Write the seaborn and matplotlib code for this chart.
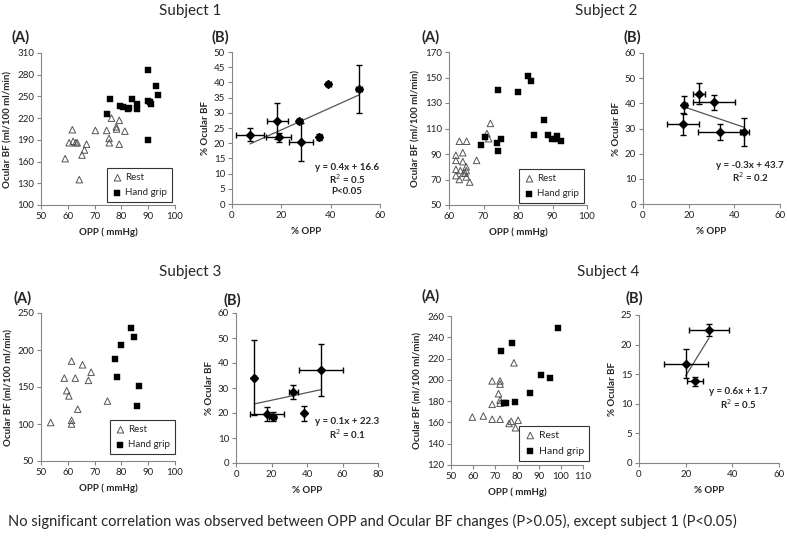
import numpy as np
import pandas as pd
import seaborn as sns
import matplotlib.pyplot as plt

# ---------------- data ----------------
# Subject 1 (A): absolute values
s1_rest_opp = [59, 61.7, 60.5, 62, 63, 63.5, 64.3, 65.3, 66.2, 67, 70.3, 74.5, 75.4, 75.5, 76.3, 78.1, 78.2, 79.2, 79.2, 81.3]
s1_rest_bf = [164, 204, 186, 188, 186, 186, 135, 169, 176, 184, 203, 203, 192, 186, 220, 208, 205, 217, 184, 202]
s1_grip_opp = [75.7, 74.7, 79.6, 80.7, 82.7, 82.3, 83.9, 85.8, 85.8, 89.9, 89.9, 90.7, 91, 92.8, 93.8, 89.9]
s1_grip_bf = [246, 226, 237, 235, 234, 232, 247, 240, 232, 287, 244, 242, 239, 265, 252, 190]
# Subject 1 (B): % change with error bars
s1_pct_opp = [7.3, 18.4, 18.9, 27.2, 28.0, 35.3, 39.0, 51.5]
s1_pct_opp_err = [5.6, 4.2, 5.0, 1.0, 4.7, 1.0, 1.0, 1.2]
s1_pct_bf = [22.8, 27.3, 21.9, 27.3, 20.3, 22.1, 39.5, 37.8]
s1_pct_bf_err = [2.2, 6.0, 1.5, 0.5, 6.3, 1.0, 0.6, 8.0]

# Subject 2
s2_rest_opp = [62, 62, 62, 62, 63, 63, 63.3, 64, 64, 64.2, 64.7, 65, 65, 65, 65.1, 66, 68, 71, 71.5, 72]
s2_rest_bf = [89, 85, 78, 73, 100, 70, 77, 91, 84, 75, 75, 80, 77, 72, 100, 68, 85, 106, 102, 114]
s2_grip_opp = [69.4, 70.4, 74, 75, 74.3, 74.3, 79.9, 82.8, 83.7, 87.6, 84.7, 88.7, 89.8, 90.9, 91.3, 92.5]
s2_grip_bf = [97, 103, 99, 102, 92.5, 140, 139, 151.5, 147, 117, 105, 105, 102, 102, 104, 100]
s2_pct_opp = [18.1, 24.7, 31.1, 17.5, 33.6, 44.4]
s2_pct_opp_err = [1.0, 2.6, 9.0, 7.2, 9.3, 2.0]
s2_pct_bf = [39.3, 43.9, 40.4, 31.8, 28.6, 28.6]
s2_pct_bf_err = [3.5, 4.3, 3.0, 4.2, 3.2, 5.4]

# Subject 3
s3_rest_opp = [53.6, 58.7, 59.6, 60.4, 61.4, 61.4, 61.4, 62.8, 63.7, 65.5, 67.7, 68.7, 74.8]
s3_rest_bf = [102, 162, 145, 138, 185, 105, 100, 162, 120, 180, 159, 170, 131]
s3_grip_opp = [77.6, 78.5, 79.9, 83.7, 84.8, 86.7, 85.8]
s3_grip_bf = [188, 163, 207, 230, 218, 152, 124]
s3_pct_opp = [10.3, 17.3, 20.7, 32.3, 38.3, 47.9]
s3_pct_opp_err = [0.8, 9.6, 2.0, 2.5, 0.5, 12.5]
s3_pct_bf = [34.1, 19.5, 18.5, 28.5, 19.9, 37.2]
s3_pct_bf_err = [15.0, 2.8, 1.8, 2.8, 3.0, 10.4]

# Subject 4
s4_rest_opp = [59.7, 64.7, 68.7, 72.3, 68.7, 72.3, 72.3, 68.7, 71.6, 72.3, 72.3, 78.6, 76.4, 77.4, 79.3, 80.5]
s4_rest_bf = [165, 166, 163, 163, 199, 199, 196, 177, 187, 181, 178, 216, 159, 161, 155, 162]
s4_grip_opp = [72.8, 77.8, 74, 75, 79, 86, 91, 95.1, 98.8]
s4_grip_bf = [227, 235, 178, 178, 179, 188, 205, 202, 249]
s4_pct_opp = [30.0, 20.0, 24.0]
s4_pct_opp_err = [8.5, 9.5, 3.5]
s4_pct_bf = [22.5, 16.8, 13.8]
s4_pct_bf_err = [1.0, 2.4, 0.8]

titles = ["Subject 1", "Subject 2", "Subject 3", "Subject 4"]
caption = ("No significant correlation was observed between OPP and Ocular BF changes "
           "(P>0.05), except subject 1 (P<0.05)")

# ---------------- style ----------------
sns.set_theme(style="white")
plt.rcParams['font.family'] = ['Lato', 'DejaVu Sans']
W, H = 787, 545
AXIS_GREY = "#868686"

fig = plt.figure(figsize=(W / 100, H / 100), dpi=100)


def px_axes(l, t, r, b):
    """Axes from pixel box (left, top, right, bottom)."""
    return fig.add_axes([l / W, 1 - b / H, (r - l) / W, (b - t) / H])


def style_axes(ax, xlim, xticks, ylim, yticks, xlabel, ylabel):
    ax.set_xlim(xlim)
    ax.set_ylim(ylim)
    ax.set_xticks(xticks)
    ax.set_yticks(yticks)
    for side in ["top", "right"]:
        ax.spines[side].set_visible(False)
    for side in ["left", "bottom"]:
        ax.spines[side].set_color(AXIS_GREY)
        ax.spines[side].set_linewidth(0.8)
    ax.tick_params(axis="both", direction="out", length=3, width=0.8,
                   color=AXIS_GREY, labelsize=7, labelcolor="#222222", pad=2,
                   left=True, bottom=True)
    ax.set_xlabel(xlabel, fontsize=7, fontweight="bold", labelpad=5)
    ax.set_ylabel(ylabel, fontsize=7, fontweight="bold", labelpad=3)
    ax.grid(False)


def draw_abs(ax, rest_x, rest_y, grip_x, grip_y, legend_corner, legend_fs=7):
    sns.scatterplot(x=rest_x, y=rest_y, marker="^", s=22, facecolors="none",
                    edgecolor="#555555", linewidth=0.7, label="Rest", ax=ax)
    sns.scatterplot(x=grip_x, y=grip_y, marker="s", s=16, color="black",
                    edgecolor="black", linewidth=0.3, label="Hand grip", ax=ax)
    leg = ax.legend(loc="lower right", bbox_to_anchor=(legend_corner[0] / W, 1 - legend_corner[1] / H),
                    bbox_transform=fig.transFigure, frameon=True, fancybox=False,
                    fontsize=legend_fs, handletextpad=0.2, borderpad=0.5,
                    labelspacing=0.6, handlelength=1.2, borderaxespad=0)
    leg.get_frame().set_edgecolor("black")
    leg.get_frame().set_linewidth(0.8)


def draw_pct(ax, x, xerr, y, yerr, eq_lines, eq_xy):
    sns.regplot(x=np.array(x), y=np.array(y), ci=None, scatter=False, truncate=True,
                color="#555555", line_kws={"lw": 0.9}, ax=ax)
    ax.errorbar(x, y, xerr=xerr, yerr=yerr, fmt="D", color="black", ms=4.5,
                elinewidth=1.0, capsize=2.5, capthick=1.0, zorder=3)
    ex, ey = eq_xy
    for i, line in enumerate(eq_lines):
        fig.text(ex / W, 1 - (ey + 12 * i) / H, line, fontsize=7, fontweight="bold",
                 ha="center", va="center")


xl_abs = "OPP ( mmHg)"
yl_abs = "Ocular BF (ml/100 ml/min)"
xl_pct = "% OPP"
yl_pct = "% Ocular BF"

# Subject 1
ax = px_axes(41, 53, 175, 205)
draw_abs(ax, s1_rest_opp, s1_rest_bf, s1_grip_opp, s1_grip_bf, (172, 202))
style_axes(ax, (50, 100), range(50, 101, 10), (100, 310), range(100, 311, 30), xl_abs, yl_abs)

ax = px_axes(232, 52, 380, 204)
draw_pct(ax, s1_pct_opp, s1_pct_opp_err, s1_pct_bf, s1_pct_bf_err,
         ["y = 0.4x + 16.6", "R$^2$ = 0.5", "P<0.05"], (347, 167))
style_axes(ax, (0, 60), range(0, 61, 20), (0, 50), range(0, 51, 5), xl_pct, yl_pct)

# Subject 2
ax = px_axes(449, 52, 587, 205)
draw_abs(ax, s2_rest_opp, s2_rest_bf, s2_grip_opp, s2_grip_bf, (584, 203))
style_axes(ax, (60, 100), range(60, 101, 10), (50, 170), range(50, 171, 20), xl_abs, yl_abs)

ax = px_axes(643, 53, 780, 204)
draw_pct(ax, s2_pct_opp, s2_pct_opp_err, s2_pct_bf, s2_pct_bf_err,
         ["y = -0.3x + 43.7", "R$^2$ = 0.2"], (750, 165))
style_axes(ax, (0, 60), range(0, 61, 20), (0, 60), range(0, 61, 10), xl_pct, yl_pct)

# Subject 3
ax = px_axes(41, 313, 175, 461)
draw_abs(ax, s3_rest_opp, s3_rest_bf, s3_grip_opp, s3_grip_bf, (175, 454))
style_axes(ax, (50, 100), range(50, 101, 10), (50, 250), range(50, 251, 50), xl_abs, yl_abs)

ax = px_axes(236, 313, 378, 463)
draw_pct(ax, s3_pct_opp, s3_pct_opp_err, s3_pct_bf, s3_pct_bf_err,
         ["y = 0.1x + 22.3", "R$^2$ = 0.1"], (347, 422))
style_axes(ax, (0, 80), range(0, 81, 20), (0, 60), range(0, 61, 10), xl_pct, yl_pct)

# Subject 4
ax = px_axes(451, 316, 583, 465)
draw_abs(ax, s4_rest_opp, s4_rest_bf, s4_grip_opp, s4_grip_bf, (589, 461), legend_fs=7.5)
style_axes(ax, (50, 110), range(50, 111, 10), (120, 260), range(120, 261, 20), xl_abs, yl_abs)

ax = px_axes(639, 315, 779, 463)
draw_pct(ax, s4_pct_opp, s4_pct_opp_err, s4_pct_bf, s4_pct_bf_err,
         ["y = 0.6x + 1.7", "R$^2$ = 0.5"], (738, 392))
style_axes(ax, (0, 60), range(0, 61, 20), (0, 25), range(0, 26, 5), xl_pct, yl_pct)

# panel letters
for lbl, (px, py) in zip(["(A)", "(B)", "(A)", "(B)", "(A)", "(B)", "(A)", "(B)"],
                         [(12, 37), (212, 37), (422, 37), (623, 37),
                          (13, 298), (223, 300), (422, 296), (625, 298)]):
    fig.text(px / W, 1 - py / H, lbl, fontsize=10.5, fontweight="bold", ha="left", va="center")

# subject titles
for t, (px, py) in zip(titles, [(190, 11), (606, 11), (190, 272), (608, 272)]):
    fig.text(px / W, 1 - py / H, t, fontsize=11, ha="center", va="center")

fig.text(8 / W, 1 - 521 / H, caption, fontsize=10.5, ha="left", va="center")

fig.savefig("out.png", dpi=100)
